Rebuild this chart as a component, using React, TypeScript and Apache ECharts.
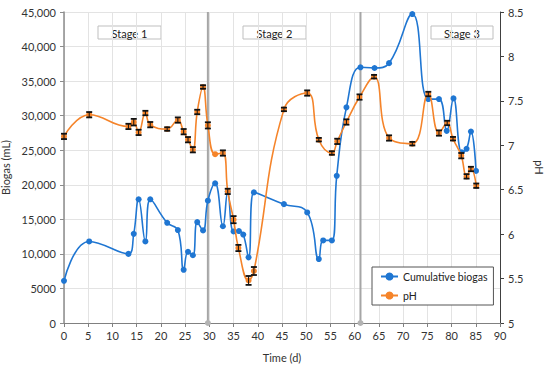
import { useEffect, useRef } from "react";
import * as echarts from "echarts";

// Cumulative biogas (mL) vs time (d)
const biogasT = [0, 5.2, 13.3, 14.4, 15.4, 16.8, 17.8, 21.3, 23.5, 24.7, 25.6, 26.6, 27.5, 28.7, 29.7, 31.2, 32.8, 33.8, 35.0, 36.1, 37.0, 38.1, 39.2, 45.4, 50.2, 52.6, 53.5, 55.3, 56.3, 58.3, 61.2, 64.1, 67.1, 71.9, 75.2, 77.4, 79.0, 80.4, 82.1, 83.1, 84.0, 85.05];
const biogasV = [6100, 11800, 10000, 12900, 17900, 11800, 17900, 14500, 13450, 7700, 10300, 9800, 14600, 13400, 17700, 20200, 14000, 19000, 13250, 13300, 12800, 9500, 18900, 17200, 16000, 9250, 11950, 11950, 21300, 31200, 37000, 36900, 37600, 44700, 32400, 32400, 27800, 32500, 24700, 25200, 27700, 22000];

// pH vs time (d), with error
const phT = [0, 5.2, 13.3, 14.4, 15.4, 16.8, 17.8, 21.3, 23.5, 24.7, 25.6, 26.6, 27.5, 28.7, 29.7, 31.2, 32.8, 33.8, 35.0, 36.0, 38.1, 39.2, 45.4, 50.2, 52.6, 55.3, 56.4, 58.3, 61.0, 64.0, 67.1, 71.9, 75.2, 77.4, 79.1, 80.3, 82.0, 83.1, 84.0, 85.1];
const phV = [7.1, 7.344, 7.212, 7.26, 7.145, 7.363, 7.232, 7.183, 7.284, 7.153, 7.063, 6.95, 7.375, 7.656, 7.224, 6.9, 6.913, 6.481, 6.163, 5.844, 5.479, 5.585, 7.404, 7.588, 7.063, 6.913, 7.044, 7.262, 7.543, 7.772, 7.082, 7.018, 7.577, 7.138, 7.251, 7.074, 6.883, 6.65, 6.733, 6.545];
const phErr = [0.03, 0.03, 0.03, 0.037, 0.03, 0.025, 0.03, 0.02, 0.03, 0.03, 0.03, 0.03, 0.025, 0.02, 0.035, 0, 0.03, 0.03, 0.04, 0.035, 0.05, 0.045, 0.02, 0.03, 0.02, 0.02, 0.03, 0.03, 0.03, 0.02, 0.03, 0.02, 0.025, 0.03, 0.025, 0.02, 0.03, 0.025, 0.025, 0.025];

const stageLines = [29.7, 61.2];
const stageLabels = ["Stage 1", "Stage 2", "Stage 3"];
const leftTickLabels = ["0", "5000", "10,000", "15,000", "20,000", "25,000", "30,000", "35,000", "40,000", "45,000"];

const BLUE = "#1F76D2";
const ORANGE = "#F5842A";
const FONT = "Lato";

export default function App() {
  const ref = useRef<HTMLDivElement>(null);
  useEffect(() => {
    if (!ref.current) return;
    const chart = echarts.init(ref.current, null, { renderer: "svg" });
    const boxes = [
      { x: 98, w: 63 },
      { x: 243, w: 63 },
      { x: 431, w: 62 },
    ];
    const option: any = {
      animation: false,
      textStyle: { fontFamily: FONT },
      grid: { left: 64, right: 50, top: 12, bottom: 47, containLabel: false, outerBoundsMode: "none" },
      legend: {
        data: ["Cumulative biogas", "pH"],
        orient: "vertical",
        left: 372,
        top: 267,
        itemWidth: 17,
        itemHeight: 10,
        itemGap: 8,
        padding: [4, 6, 4, 8],
        borderColor: "#555",
        borderWidth: 1,
        backgroundColor: "#fff",
        textStyle: { fontFamily: FONT, fontSize: 10.5, color: "#222" },
      },
      xAxis: {
        type: "value",
        min: 0,
        max: 90,
        interval: 5,
        name: "Time (d)",
        nameLocation: "middle",
        nameGap: 29,
        nameTextStyle: { fontFamily: FONT, fontSize: 11, color: "#333" },
        axisLine: { lineStyle: { color: "#808080", width: 1 } },
        axisTick: { show: true, length: 4, lineStyle: { color: "#808080" } },
        axisLabel: { fontFamily: FONT, fontSize: 11, color: "#333", margin: 7 },
        splitLine: { show: true, lineStyle: { color: "#e3e3e3", width: 1 } },
      },
      yAxis: [
        {
          type: "value",
          min: 0,
          max: 45000,
          interval: 5000,
          name: "Biogas (mL)",
          nameLocation: "middle",
          nameGap: 48,
          nameTextStyle: { fontFamily: FONT, fontSize: 11, color: "#333" },
          axisLine: { show: true, lineStyle: { color: "#8c8c8c", width: 1.5 } },
          axisTick: { show: true, length: 4, lineStyle: { color: "#8c8c8c" } },
          axisLabel: {
            fontFamily: FONT,
            fontSize: 11,
            color: "#333",
            margin: 8,
            formatter: (v: number) => leftTickLabels[Math.round(v / 5000)],
          },
          splitLine: { show: true, lineStyle: { color: "#e3e3e3", width: 1 } },
        },
        {
          type: "value",
          min: 5,
          max: 8.5,
          interval: 0.5,
          position: "right",
          name: "pH",
          nameLocation: "middle",
          nameRotate: -90,
          nameGap: 32,
          nameTextStyle: { fontFamily: FONT, fontSize: 11, color: "#333" },
          axisLine: { show: true, lineStyle: { color: "#404040", width: 1 } },
          axisTick: { show: true, length: 4, lineStyle: { color: "#404040" } },
          axisLabel: { fontFamily: FONT, fontSize: 11, color: "#333", margin: 8 },
          splitLine: { show: false },
        },
      ],
      graphic: boxes.map((b, i) => ({
        type: "group",
        children: [
          {
            type: "rect",
            shape: { x: b.x, y: 26, width: b.w, height: 13 },
            style: { fill: "#fff", stroke: "#bfbfbf", lineWidth: 1 },
          },
          {
            type: "text",
            style: {
              text: stageLabels[i],
              x: b.x + b.w / 2,
              y: 33,
              align: "center",
              verticalAlign: "middle",
              font: `11px ${FONT}`,
              fill: "#222",
            },
          },
        ],
      })),
      series: [
        ...stageLines.map((t) => ({
          type: "line",
          name: "stage" + t,
          yAxisIndex: 0,
          data: [
            { value: [t, 0], symbol: "circle", symbolSize: 6 },
            { value: [t, 45000], symbol: "none" },
          ],
          lineStyle: { color: "#a6a6a6", width: 2 },
          itemStyle: { color: "#b3b3b3" },
          z: 1,
          silent: true,
        })),
        {
          type: "line",
          name: "Cumulative biogas",
          yAxisIndex: 0,
          smooth: 0.45,
          data: biogasT.map((t, i) => [t, biogasV[i]]),
          symbol: "circle",
          symbolSize: 6,
          showAllSymbol: true,
          lineStyle: { color: BLUE, width: 1.6 },
          itemStyle: { color: BLUE },
          z: 3,
        },
        {
          type: "line",
          name: "pH",
          yAxisIndex: 1,
          smooth: 0.45,
          data: phT.map((t, i) => [t, phV[i]]),
          symbol: "circle",
          symbolSize: 6,
          showAllSymbol: true,
          lineStyle: { color: ORANGE, width: 1.6 },
          itemStyle: { color: ORANGE },
          z: 4,
        },
        {
          type: "custom",
          name: "pH error",
          yAxisIndex: 1,
          z: 5,
          silent: true,
          encode: { x: 0, y: 1 },
          data: phT.map((t, i) => [t, phV[i], phErr[i]]),
          renderItem: (_params: any, api: any) => {
            const x = api.value(0);
            const y = api.value(1);
            const e = api.value(2);
            if (!e) return { type: "group", children: [] };
            const hi = api.coord([x, y + e]);
            const lo = api.coord([x, y - e]);
            const w = 3;
            const st = { stroke: "#111", lineWidth: 1.8 };
            return {
              type: "group",
              children: [
                { type: "line", shape: { x1: hi[0], y1: hi[1], x2: lo[0], y2: lo[1] }, style: { stroke: "#111", lineWidth: 1 } },
                { type: "line", shape: { x1: hi[0] - w, y1: hi[1], x2: hi[0] + w, y2: hi[1] }, style: st },
                { type: "line", shape: { x1: lo[0] - w, y1: lo[1], x2: lo[0] + w, y2: lo[1] }, style: st },
              ],
            };
          },
        },
      ],
    };
    chart.setOption(option);
    return () => chart.dispose();
  }, []);
  return <div ref={ref} style={{ width: 550, height: 370, position: "absolute", left: 0, top: 0 }} />;
}
